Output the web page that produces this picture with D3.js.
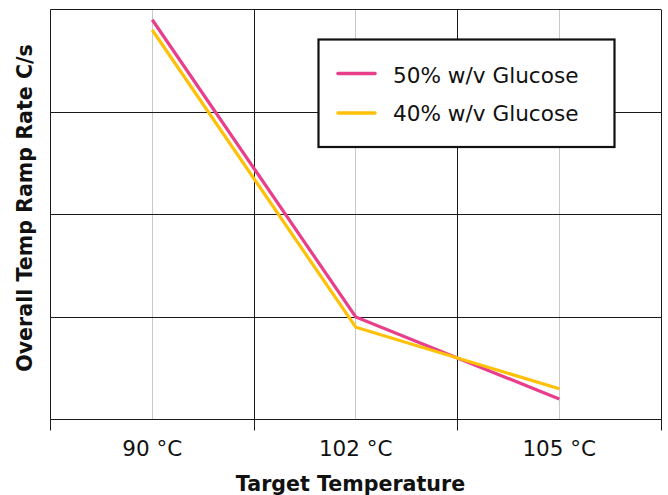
<!DOCTYPE html>
<html>
<head>
<meta charset="utf-8">
<script src="https://cdn.jsdelivr.net/npm/d3@7"></script>
<style>
  html, body { margin: 0; padding: 0; background: #fff; }
  svg { display: block; font-family: "DejaVu Sans", Verdana, sans-serif; }
</style>
</head>
<body>
<svg id="chart" width="668" height="495"></svg>
<script>
const categories = ["90 °C", "102 °C", "105 °C"];
const seriesNames = ["50% w/v Glucose", "40% w/v Glucose"];
const glucose50 = [3.9, 1.0, 0.2];
const glucose40 = [3.8, 0.9, 0.3];
const yTicks = [0, 1, 2, 3, 4];
const seriesColors = ["#e83e8c", "#ffc107"];
const xTitle = "Target Temperature";
const yTitle = "Overall Temp Ramp Rate C/s";

const svg = d3.select("#chart");
const plotLeft = 50.5, plotRight = 661, plotTop = 9.5, plotBottom = 419.5;

const x = d3.scaleBand().domain(categories).range([plotLeft, plotRight]).padding(0);
const y = d3.scaleLinear().domain([0, 4]).range([plotBottom, plotTop]);
const crisp = v => Math.round(v - 0.5) + 0.5;

const g = svg.append("g");

// light grey category centre lines
g.selectAll(".cgrid").data(categories).enter().append("line")
  .attr("x1", d => crisp(x(d) + x.bandwidth() / 2))
  .attr("x2", d => crisp(x(d) + x.bandwidth() / 2))
  .attr("y1", plotTop).attr("y2", plotBottom)
  .attr("stroke", "#c8c8c8").attr("stroke-width", 1);

// horizontal grid lines
g.selectAll(".hgrid").data(yTicks).enter().append("line")
  .attr("x1", plotLeft).attr("x2", plotRight)
  .attr("y1", d => crisp(y(d))).attr("y2", d => crisp(y(d)))
  .attr("stroke", "#1a1a1a").attr("stroke-width", 1);

// vertical band boundary lines (extend below as ticks)
const bounds = categories.map(c => x(c)).concat([x(categories[categories.length - 1]) + x.bandwidth()]);
g.selectAll(".vgrid").data(bounds).enter().append("line")
  .attr("x1", d => crisp(d)).attr("x2", d => crisp(d))
  .attr("y1", plotTop).attr("y2", plotBottom + 11)
  .attr("stroke", "#1a1a1a").attr("stroke-width", 1);

// x tick labels
g.selectAll(".xlab").data(categories).enter().append("text")
  .attr("x", d => x(d) + x.bandwidth() / 2)
  .attr("y", 456)
  .attr("text-anchor", "middle")
  .attr("font-size", "21.5px")
  .attr("fill", "#111")
  .text(d => d);

// lines
const line = d3.line().x((d, i) => x(categories[i]) + x.bandwidth() / 2).y(d => y(d));
[glucose50, glucose40].forEach((s, i) => {
  g.append("path").datum(s)
    .attr("d", line)
    .attr("fill", "none")
    .attr("stroke", seriesColors[i])
    .attr("stroke-width", 3.2)
    .attr("stroke-linejoin", "miter");
});

// legend
const leg = svg.append("g");
leg.append("rect")
  .attr("x", 318.5).attr("y", 39.5).attr("width", 296).attr("height", 107.5)
  .attr("fill", "#fff").attr("stroke", "#111").attr("stroke-width", 2.2);
const legY = [73.5, 113];
const legTextY = [83, 121];
seriesNames.forEach((n, i) => {
  leg.append("line")
    .attr("x1", 338).attr("x2", 375)
    .attr("y1", legY[i]).attr("y2", legY[i])
    .attr("stroke", seriesColors[i]).attr("stroke-width", 3.5)
    .attr("stroke-linecap", "round");
  leg.append("text")
    .attr("x", 393).attr("y", legTextY[i])
    .attr("font-size", "21.6px")
    .attr("fill", "#111")
    .text(n);
});

// axis titles
svg.append("text")
  .attr("x", 350.5).attr("y", 491)
  .attr("text-anchor", "middle")
  .attr("font-size", "20.6px").attr("font-weight", "bold")
  .attr("fill", "#111")
  .text(xTitle);

svg.append("text")
  .attr("transform", "translate(31.5,208) rotate(-90)")
  .attr("text-anchor", "middle")
  .attr("font-size", "20.6px").attr("font-weight", "bold")
  .attr("fill", "#111")
  .text(yTitle);
</script>
</body>
</html>
